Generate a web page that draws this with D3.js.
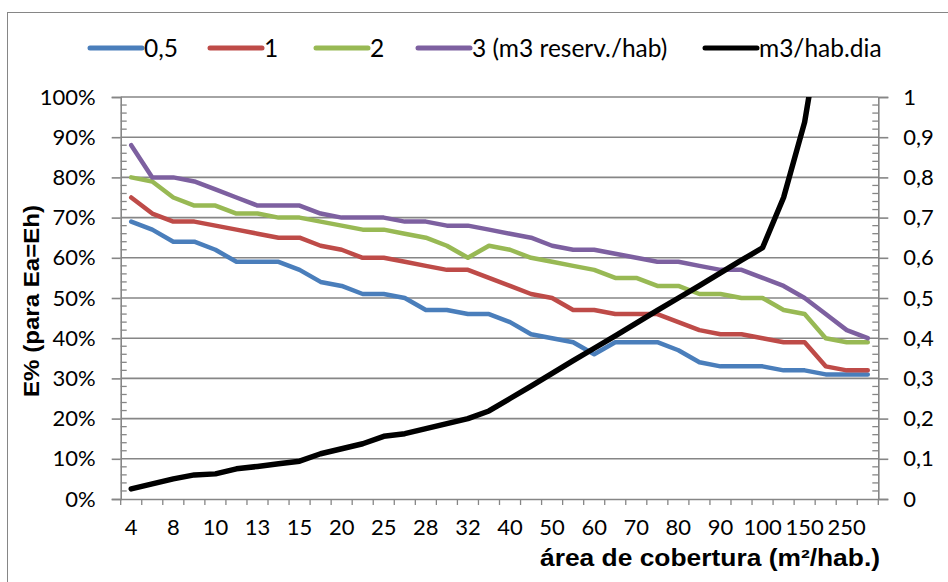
<!DOCTYPE html>
<html>
<head>
<meta charset="utf-8">
<script src="https://cdn.jsdelivr.net/npm/d3@7"></script>
<style>
  html, body { margin: 0; padding: 0; background: #fff; }
  svg { display: block; }
</style>
</head>
<body>
<div id="chart"></div>
<script>
// ---- data ----
const categories = [4,6,8,9,10,12,13,14,15,18,20,22,25,26,28,30,32,35,40,45,50,55,60,65,70,75,80,85,90,95,100,120,150,200,250,300];
const shownLabels = [4,8,10,13,15,20,25,28,32,40,50,60,70,80,90,100,150,250];
const serie05 = [69,67,64,64,62,59,59,59,57,54,53,51,51,50,47,47,46,46,44,41,40,39,36,39,39,39,37,34,33,33,33,32,32,31,31,31];
const serie1  = [75,71,69,69,68,67,66,65,65,63,62,60,60,59,58,57,57,55,53,51,50,47,47,46,46,46,44,42,41,41,40,39,39,33,32,32];
const serie2  = [80,79,75,73,73,71,71,70,70,69,68,67,67,66,65,63,60,63,62,60,59,58,57,55,55,53,53,51,51,50,50,47,46,40,39,39];
const serie3  = [88,80,80,79,77,75,73,73,73,71,70,70,70,69,69,68,68,67,66,65,63,62,62,61,60,59,59,58,57,57,55,53,50,46,42,40];
const volume  = [0.025,0.0375,0.05,0.06,0.0625,0.075,0.081,0.0875,0.094,0.1125,0.125,0.1375,0.156,0.1625,0.175,0.1875,0.2,0.219,0.25,0.281,0.3125,0.344,0.375,0.406,0.4375,0.469,0.5,0.531,0.5625,0.594,0.625,0.75,0.9375,1.25,1.5625,1.875];
const seriesNames = ["0,5","1","2","3 (m3 reserv./hab)","m3/hab.dia"];
const seriesColors = ["#4A7EBB","#BE4B48","#98B954","#7D60A0","#000000"];
const leftTicks = [0,10,20,30,40,50,60,70,80,90,100];
const rightTicks = [0,0.1,0.2,0.3,0.4,0.5,0.6,0.7,0.8,0.9,1];

// ---- layout ----
const W = 948, H = 582;
const plot = {left: 120.7, right: 878.3, top: 97, bottom: 499};
const gray = "#868686";
const tickFont = "Lato, 'Open Sans', sans-serif";
const titleFont = "'Liberation Sans', Arial, sans-serif";

const svg = d3.select("#chart").append("svg").attr("width", W).attr("height", H);

// border
svg.append("rect").attr("x", 7.5).attr("y", 12.5).attr("width", W + 20).attr("height", H + 20)
  .attr("fill", "none").attr("stroke", gray).attr("stroke-width", 1);

const x = d3.scaleBand().domain(categories.map(String)).range([plot.left, plot.right]).padding(0);
const yL = d3.scaleLinear().domain([0, 100]).range([plot.bottom, plot.top]);
const yR = d3.scaleLinear().domain([0, 1]).range([plot.bottom, plot.top]);
const cx = c => x(String(c)) + x.bandwidth() / 2;

// gridlines
svg.append("g").selectAll("line").data(leftTicks.filter(t => t > 0)).join("line")
  .attr("x1", plot.left).attr("x2", plot.right)
  .attr("y1", d => yL(d)).attr("y2", d => yL(d))
  .attr("stroke", gray).attr("stroke-width", 1.6);

// minor ticks (every 2%)
const minor = d3.range(0, 101, 2).filter(v => v % 10 !== 0);
svg.append("g").selectAll("line").data(minor).join("line")
  .attr("x1", plot.left).attr("x2", plot.left + 6)
  .attr("y1", d => yL(d)).attr("y2", d => yL(d))
  .attr("stroke", gray).attr("stroke-width", 1.3);
svg.append("g").selectAll("line").data(minor).join("line")
  .attr("x1", plot.right - 6).attr("x2", plot.right)
  .attr("y1", d => yL(d)).attr("y2", d => yL(d))
  .attr("stroke", gray).attr("stroke-width", 1.3);

// left axis
const axL = d3.axisLeft(yL).tickValues(leftTicks).tickFormat(d => d + "%").tickSize(9).tickPadding(16);
const gL = svg.append("g").attr("transform", `translate(${plot.left},0)`).call(axL);
// right axis
const axR = d3.axisRight(yR).tickValues(rightTicks).tickFormat(d => d3.format("")(+d.toFixed(1)).replace(".", ",")).tickSize(10).tickPadding(15);
const gR = svg.append("g").attr("transform", `translate(${plot.right},0)`).call(axR);
// bottom axis
const axB = d3.axisBottom(x).tickValues(categories.map(String))
  .tickFormat(d => shownLabels.includes(+d) && categories.indexOf(+d) % 2 === 0 ? d : "")
  .tickSize(0).tickPadding(20);
const gB = svg.append("g").attr("transform", `translate(0,${plot.bottom})`).call(axB);
// x ticks at band boundaries
const bounds = d3.range(categories.length + 1).map(i => plot.left + i * x.bandwidth());
svg.append("g").selectAll("line").data(bounds).join("line")
  .attr("x1", d => d).attr("x2", d => d)
  .attr("y1", plot.bottom).attr("y2", plot.bottom + 6)
  .attr("stroke", gray).attr("stroke-width", 1.3);

[gL, gR, gB].forEach(g => {
  g.select(".domain").attr("stroke", gray).attr("stroke-width", 1.6);
  g.selectAll(".tick line").attr("stroke", gray).attr("stroke-width", 1.6);
  g.selectAll(".tick text").attr("fill", "#000").attr("font-family", tickFont).attr("font-size", 22);
});
gB.select(".domain").attr("d", `M${plot.left},0.5H${plot.right}`);

// clip
svg.append("clipPath").attr("id", "clip").append("rect")
  .attr("x", plot.left).attr("y", plot.top).attr("width", plot.right - plot.left).attr("height", plot.bottom - plot.top);

// lines
const lineL = d3.line().x((d, i) => cx(categories[i])).y(d => yL(d));
const lineR = d3.line().x((d, i) => cx(categories[i])).y(d => yR(d));
const gLines = svg.append("g").attr("clip-path", "url(#clip)");
[serie05, serie1, serie2, serie3].forEach((s, k) => {
  gLines.append("path").datum(s).attr("d", lineL)
    .attr("fill", "none").attr("stroke", seriesColors[k]).attr("stroke-width", 4.5)
    .attr("stroke-linejoin", "round").attr("stroke-linecap", "round");
});
gLines.append("path").datum(volume).attr("d", lineR)
  .attr("fill", "none").attr("stroke", seriesColors[4]).attr("stroke-width", 5.5)
  .attr("stroke-linejoin", "round").attr("stroke-linecap", "round");

// legend
const legendX = [90, 210, 316, 418, 705];
const leg = svg.append("g");
seriesNames.forEach((n, k) => {
  leg.append("line").attr("x1", legendX[k]).attr("x2", legendX[k] + 52)
    .attr("y1", 48).attr("y2", 48)
    .attr("stroke", seriesColors[k]).attr("stroke-width", 5).attr("stroke-linecap", "round");
  leg.append("text").attr("x", legendX[k] + 54).attr("y", 57)
    .attr("font-family", tickFont).attr("font-size", 24.5).text(n);
});

// axis titles
svg.append("text").attr("transform", "translate(39,301) rotate(-90)")
  .attr("text-anchor", "middle").attr("font-family", titleFont)
  .attr("font-weight", "bold").attr("font-size", 22)
  .attr("textLength", 192).attr("lengthAdjust", "spacingAndGlyphs").text("E% (para Ea=Eh)");
svg.append("text").attr("x", 880).attr("y", 566).attr("text-anchor", "end")
  .attr("font-family", titleFont)
  .attr("font-weight", "bold").attr("font-size", 23)
  .attr("textLength", 340).attr("lengthAdjust", "spacingAndGlyphs").text("área de cobertura (m²/hab.)");
</script>
</body>
</html>
